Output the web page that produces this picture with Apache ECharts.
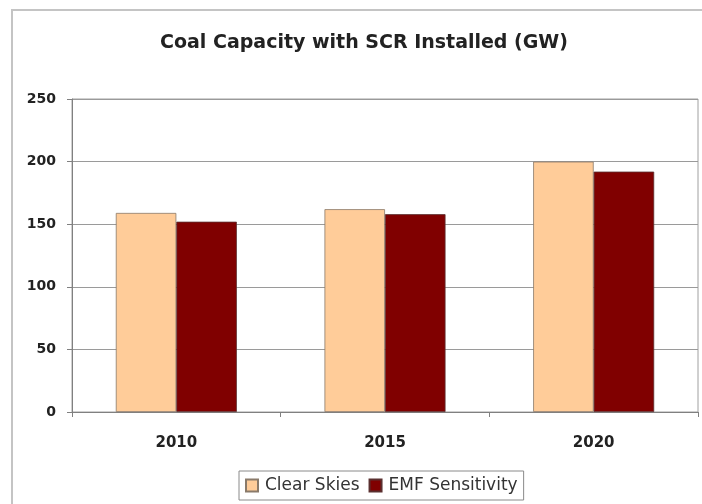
<!DOCTYPE html>
<html>
<head>
<meta charset="utf-8">
<style>html,body{margin:0;padding:0;background:#fff}#c{width:702px;height:504px}</style>
<script src="https://cdn.jsdelivr.net/npm/echarts@6/dist/echarts.min.js"></script>
</head>
<body>
<div id="c"></div>
<script>
var categories = ['2010', '2015', '2020'];
var clearSkies = [159, 162, 200];
var emfSensitivity = [152, 158, 192];
var yTicks = [0, 50, 100, 150, 200, 250];

var chart = echarts.init(document.getElementById('c'), null, {renderer: 'canvas'});
chart.setOption({
  backgroundColor: '#ffffff',
  animation: false,
  title: {
    text: 'Coal Capacity with SCR Installed (GW)',
    left: 359, top: 29, textAlign: 'center',
    textStyle: {fontFamily: 'DejaVu Sans', fontWeight: 'bold', fontSize: 19, color: '#222'}
  },
  graphic: [{
    type: 'rect', silent: true, z: -1,
    shape: {x: 12, y: 10, width: 720, height: 520},
    style: {fill: null, stroke: '#c4c4c4', lineWidth: 2}
  }],
  grid: {left: 72, right: 4, top: 99, bottom: 92, show: true, borderColor: '#a0a0a0', borderWidth: 1},
  legend: {
    data: ['Clear Skies', 'EMF Sensitivity'],
    left: 239, bottom: 4,
    itemWidth: 12, itemHeight: 12, itemGap: 9,
    icon: 'rect',
    borderColor: '#8a8a8a', borderWidth: 1, padding: [6, 6, 6, 6],
    textStyle: {fontFamily: 'DejaVu Sans', fontSize: 17, color: '#333', padding: [0, 0, 0, 2]}
  },
  xAxis: {
    type: 'category', data: categories,
    axisLine: {lineStyle: {color: '#808080', width: 1}},
    axisTick: {show: true, length: 5, lineStyle: {color: '#808080'}},
    axisLabel: {margin: 24, fontFamily: 'DejaVu Sans', fontWeight: 'bold', fontSize: 15, color: '#222'}
  },
  yAxis: {
    type: 'value', min: 0, max: 250, interval: 50,
    axisLine: {show: true, lineStyle: {color: '#808080', width: 1}},
    axisTick: {show: true, length: 5, lineStyle: {color: '#808080'}},
    splitLine: {lineStyle: {color: '#9a9a9a', width: 1}},
    axisLabel: {margin: 16, fontFamily: 'DejaVu Sans', fontWeight: 'bold', fontSize: 14, color: '#222',
      formatter: function (v) { return yTicks.indexOf(v) >= 0 ? String(v) : ''; }}
  },
  series: [{
    name: 'Clear Skies', type: 'bar', data: clearSkies,
    barGap: '0%', barCategoryGap: '42%',
    itemStyle: {color: '#ffcc99', borderColor: '#8a7a6a', borderWidth: 0.8}
  }, {
    name: 'EMF Sensitivity', type: 'bar', data: emfSensitivity,
    itemStyle: {color: '#800000', borderColor: '#5a3030', borderWidth: 0.8}
  }]
});
</script>
</body>
</html>
